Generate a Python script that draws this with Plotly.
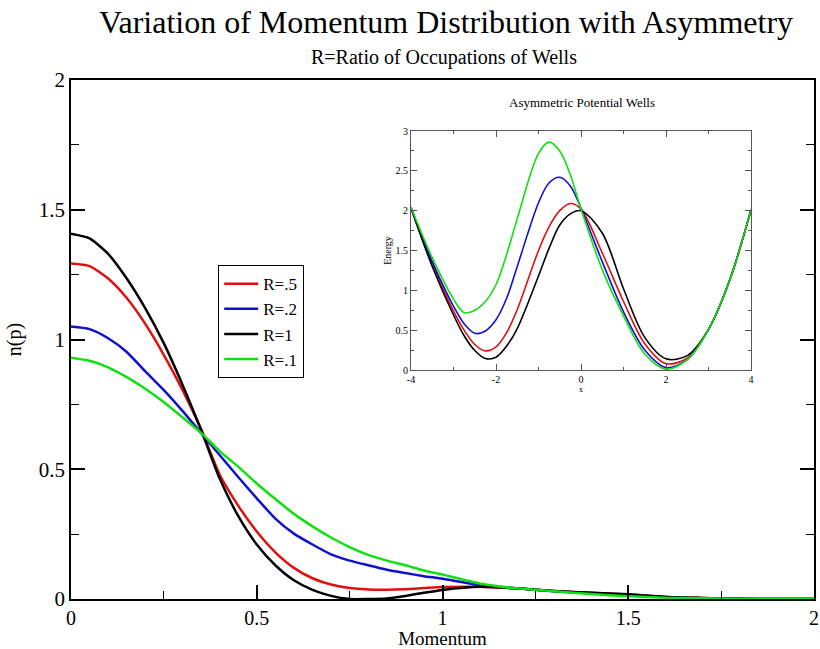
import plotly.graph_objects as go

# ---- main plot data: momentum distribution n(p) ----
momentum = [0, 0.05, 0.1, 0.15, 0.2, 0.25, 0.3, 0.35, 0.4, 0.45, 0.5, 0.55, 0.6, 0.65, 0.7,
            0.75, 0.8, 0.85, 0.9, 0.95, 1.0, 1.1, 1.2, 1.3, 1.4, 1.5, 1.6, 1.7, 1.8, 1.9, 2.0]
n_r05 = [1.293, 1.283, 1.235, 1.16, 1.06, 0.94, 0.806, 0.655, 0.48, 0.36, 0.26, 0.18, 0.12,
         0.08, 0.056, 0.042, 0.037, 0.036, 0.038, 0.042, 0.046, 0.047, 0.041, 0.031, 0.024,
         0.017, 0.008, 0.004, 0.001, 0.0, 0.0]
n_r02 = [1.05, 1.04, 1.005, 0.952, 0.877, 0.805, 0.725, 0.64, 0.555, 0.47, 0.388, 0.31, 0.252,
         0.21, 0.172, 0.148, 0.13, 0.113, 0.1, 0.088, 0.078, 0.054, 0.041, 0.03, 0.022,
         0.015, 0.008, 0.003, 0.001, 0.0, 0.0]
n_r1 = [1.408, 1.39, 1.33, 1.235, 1.12, 0.985, 0.826, 0.652, 0.465, 0.32, 0.21, 0.13, 0.072,
        0.035, 0.012, 0.0, 0.0, 0.002, 0.012, 0.024, 0.035, 0.047, 0.041, 0.031, 0.024,
        0.018, 0.008, 0.004, 0.001, 0.0, 0.0]
n_r01 = [0.93, 0.918, 0.893, 0.855, 0.81, 0.758, 0.70, 0.64, 0.57, 0.51, 0.445, 0.385, 0.328,
         0.28, 0.237, 0.2, 0.17, 0.148, 0.13, 0.11, 0.094, 0.06, 0.041, 0.03, 0.019,
         0.011, 0.005, 0.003, 0.001, 0.001, 0.0]

# ---- inset data: asymmetric potential wells ----
x_pos = [-4, -3.5, -3, -2.75, -2.5, -2.25, -2, -1.75, -1.5, -1, -0.75, -0.5, -0.25, 0,
         0.5, 1, 1.5, 2, 2.5, 3, 3.5, 4]
e_r05 = [2.04, 1.34, 0.74, 0.50, 0.32, 0.24, 0.29, 0.47, 0.76, 1.50, 1.80, 2.0, 2.09, 2.02,
         1.47, 0.86, 0.33, 0.08, 0.15, 0.51, 1.13, 2.01]
e_r02 = [2.04, 1.36, 0.80, 0.58, 0.46, 0.49, 0.63, 0.90, 1.30, 2.10, 2.35, 2.42, 2.31, 2.03,
         1.36, 0.73, 0.25, 0.03, 0.13, 0.51, 1.13, 2.01]
e_r1 = [2.03, 1.30, 0.69, 0.43, 0.245, 0.145, 0.16, 0.30, 0.52, 1.18, 1.53, 1.82, 1.96, 2.0,
        1.72, 1.02, 0.41, 0.14, 0.18, 0.51, 1.13, 2.01]
e_r01 = [2.04, 1.41, 0.89, 0.72, 0.75, 0.86, 1.07, 1.45, 1.90, 2.72, 2.86, 2.75, 2.45, 2.02,
         1.26, 0.68, 0.2, 0.01, 0.13, 0.51, 1.13, 2.01]

inset_xticks = [-4, -2, 0, 2, 4]
inset_xticklabels = ["-4", "-2", "0", "2", "4"]

labels = ["R=.5", "R=.2", "R=1", "R=.1"]
colors = ["#e01010", "#1010d0", "#000000", "#10e010"]
main_series = [n_r05, n_r02, n_r1, n_r01]
inset_series = [e_r05, e_r02, e_r1, e_r01]

FONT = "Liberation Serif, Times New Roman, Times, serif"
fig = go.Figure()

for lab, col, ys in zip(labels, colors, main_series):
    fig.add_trace(go.Scatter(x=momentum, y=ys, mode="lines", name=lab,
                             line=dict(color=col, width=2.5, shape="spline", smoothing=0.6),
                             xaxis="x", yaxis="y"))

for lab, col, ys in zip(labels, colors, inset_series):
    fig.add_trace(go.Scatter(x=x_pos, y=ys, mode="lines", name=lab, showlegend=False,
                             line=dict(color=col, width=1.6, shape="spline", smoothing=0.9),
                             xaxis="x2", yaxis="y2"))

W, H = 820, 649
L, R, T, B = 71, 6, 80, 50
pw, ph = W - L - R, H - T - B

def px_x(px):
    return (px - L) / pw

def px_y(py):
    return (H - B - py) / ph

axis_common = dict(showgrid=False, zeroline=False, showline=True, linecolor="black",
                   ticks="inside", tickcolor="black", automargin=False)

fig.update_layout(
    width=W, height=H,
    margin=dict(l=L, r=R, t=T, b=B, autoexpand=False),
    paper_bgcolor="white", plot_bgcolor="white",
    font=dict(family=FONT, color="black"),
    title=dict(text="Variation of Momentum Distribution with Asymmetry",
               x=446 / W, xanchor="center", y=1 - 22 / H, yanchor="middle",
               xref="container", yref="container",
               font=dict(size=32, family=FONT, color="black")),
    showlegend=True,
    legend=dict(x=px_x(218), y=px_y(265), xanchor="left", yanchor="top",
                bgcolor="white", bordercolor="black", borderwidth=1.2,
                font=dict(size=17, family=FONT, color="black"),
                itemwidth=34, tracegroupgap=0),
    xaxis=dict(**axis_common, range=[0, 2], dtick=0.5, tick0=0, ticklen=14, tickwidth=1.5,
               linewidth=1.5, mirror=True,
               minor=dict(ticks="inside", dtick=0.25, ticklen=8, tickcolor="black", tickwidth=1.2),
               tickfont=dict(size=20, family=FONT, color="black"),
               title=dict(text="Momentum", font=dict(size=19, family=FONT, color="black"), standoff=6)),
    yaxis=dict(**axis_common, range=[0, 2], dtick=0.5, tick0=0, ticklen=14, tickwidth=1.5,
               linewidth=1.5, mirror="ticks",
               minor=dict(ticks="inside", dtick=0.25, ticklen=8, tickcolor="black", tickwidth=1.2),
               tickfont=dict(size=21, family=FONT, color="black"),
               title=dict(text="n(p)", font=dict(size=20, family=FONT, color="black"), standoff=12)),
    xaxis2=dict(showgrid=False, zeroline=False, showline=True, linecolor="#555555", linewidth=1,
                automargin=False,
                domain=[px_x(411), px_x(751)], anchor="y2", range=[-4, 4],
                tickmode="array", tickvals=inset_xticks, ticktext=inset_xticklabels,
                ticks="inside", ticklen=6, tickcolor="#555555", mirror="ticks",
                minor=dict(ticks="inside", dtick=1, tick0=0, ticklen=3, tickcolor="#555555"),
                tickfont=dict(size=10, family=FONT, color="black"),
                title=dict(text="x", font=dict(size=8, family=FONT, color="black"), standoff=0)),
    yaxis2=dict(showgrid=False, zeroline=False, showline=True, linecolor="#555555", linewidth=1,
                automargin=False,
                domain=[px_y(370), px_y(131)], anchor="x2", range=[0, 3], dtick=0.5, tick0=0,
                ticks="inside", ticklen=6, tickcolor="#555555", mirror="ticks",
                minor=dict(ticks="inside", dtick=0.25, ticklen=3, tickcolor="#555555"),
                tickfont=dict(size=10, family=FONT, color="black"),
                title=dict(text="Energy", font=dict(size=10, family=FONT, color="black"), standoff=2)),
    annotations=[
        dict(text="R=Ratio of Occupations of Wells", xref="paper", yref="paper",
             x=px_x(444), y=px_y(57), xanchor="center", yanchor="middle", showarrow=False,
             font=dict(size=20, family=FONT, color="black")),
        dict(text="Asymmetric Potential Wells", xref="paper", yref="paper",
             x=px_x(582), y=px_y(103), xanchor="center", yanchor="middle", showarrow=False,
             font=dict(size=13, family=FONT, color="black")),
    ],
)

fig.write_html("out.html", post_script="document.body.style.margin='0';",
               config={"displayModeBar": False})
